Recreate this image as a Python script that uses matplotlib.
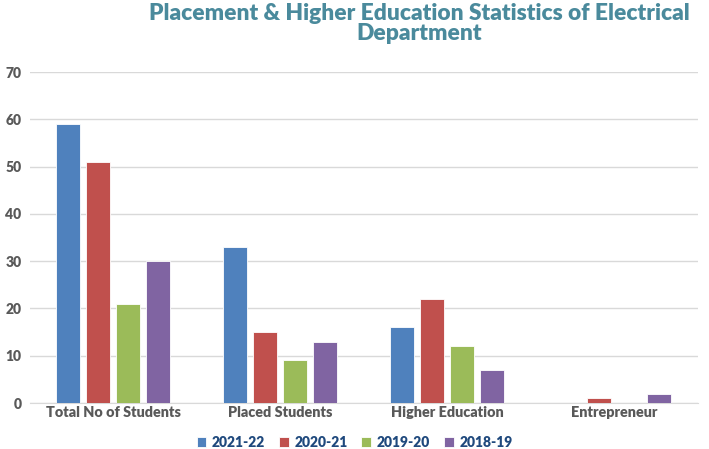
import numpy as np
import matplotlib
matplotlib.use("Agg")
import matplotlib.pyplot as plt

plt.rcParams['font.family'] = ['Lato', 'DejaVu Sans']

# -----------------------
# Data
# -----------------------
categories = ["Total No of Students", "Placed Students", "Higher Education", "Entrepreneur"]
years = ["2021-22", "2020-21", "2019-20", "2018-19"]
vals_2021_22 = [59, 33, 16, 0]
vals_2020_21 = [51, 15, 22, 1]
vals_2019_20 = [21, 9, 12, 0]
vals_2018_19 = [30, 13, 7, 2]
colors = ["#4F81BD", "#C0504D", "#9BBB59", "#8064A2"]

series = [vals_2021_22, vals_2020_21, vals_2019_20, vals_2018_19]

# -----------------------
# Plot
# -----------------------
fig = plt.figure(figsize=(7.09, 4.49), dpi=100)
ax = fig.add_axes([0.042, 0.1024, 0.942, 0.737])

x = np.arange(len(categories))
pitch = 0.18
width = 0.145
for i, (vals, lab, col) in enumerate(zip(series, years, colors)):
    ax.bar(x + (i - 1.5) * pitch, vals, width=width, color=col, label=lab,
           edgecolor="white", linewidth=0.6, zorder=3)

ax.set_xlim(-0.5, len(categories) - 0.5)
ax.set_ylim(0, 70)
ax.set_yticks(range(0, 71, 10))
ax.grid(axis="y", color="#D9D9D9", linewidth=1, zorder=0)
ax.set_xticks(x)
ax.set_xticklabels(categories, fontsize=10.4, fontweight="heavy", color="#595959")
ax.tick_params(axis="y", labelsize=10, labelcolor="#595959", length=0, pad=6)
ax.tick_params(axis="x", length=0, pad=2)
for lbl in ax.get_yticklabels():
    lbl.set_fontweight("heavy")
for s in ["top", "right", "left"]:
    ax.spines[s].set_visible(False)
ax.spines["bottom"].set_color("#D9D9D9")

fig.text(0.591, 0.993, "Placement & Higher Education Statistics of Electrical\nDepartment",
         ha="center", va="top", fontsize=16.4, fontweight="heavy", color="#4A8A9C",
         linespacing=0.96)

leg = fig.legend(loc="center", bbox_to_anchor=(0.5, 0.014), ncol=4, frameon=False,
                 fontsize=10, handlelength=0.7, handleheight=0.7, columnspacing=1.0,
                 handletextpad=0.4)
for t in leg.get_texts():
    t.set_color("#1F497D")
    t.set_fontweight("heavy")

fig.savefig("out.png", dpi=100)
